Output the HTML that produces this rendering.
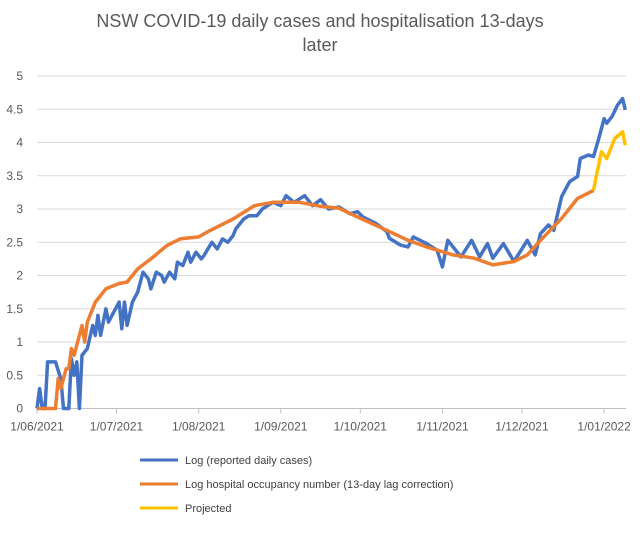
<!DOCTYPE html>
<html><head><meta charset="utf-8"><style>
body{margin:0;background:#fff;width:640px;height:528px;overflow:hidden;font-family:"Liberation Sans",sans-serif}
</style></head><body>
<svg id="chart" width="640" height="528" xmlns="http://www.w3.org/2000/svg">
<text x="320" y="27" text-anchor="middle" font-size="18" fill="#595959">NSW COVID-19 daily cases and hospitalisation 13-days</text>
<text x="320" y="51" text-anchor="middle" font-size="18" fill="#595959">later</text>
<g id="grid"></g>
<g id="series"></g>
<g>
<line x1="140" y1="460" x2="178" y2="460" stroke="#4472c4" stroke-width="3"/>
<text x="185" y="464" font-size="11" fill="#404040">Log (reported daily cases)</text>
<line x1="140" y1="484" x2="178" y2="484" stroke="#ed7d31" stroke-width="3"/>
<text x="185" y="488" font-size="11" fill="#404040">Log hospital occupancy number (13-day lag correction)</text>
<line x1="140" y1="508" x2="178" y2="508" stroke="#ffc000" stroke-width="3"/>
<text x="185" y="512" font-size="11" fill="#404040">Projected</text>
</g>
</svg>
<script>
const yTicks=[0,0.5,1,1.5,2,2.5,3,3.5,4,4.5,5];
const yTickLabels=["0","0.5","1","1.5","2","2.5","3","3.5","4","4.5","5"];
const xTickDays=[0,30,61,92,122,153,183,214];
const xTickLabels=["1/06/2021","1/07/2021","1/08/2021","1/09/2021","1/10/2021","1/11/2021","1/12/2021","1/01/2022"];
const casesDays=[0,1,2,3,4,5,6,7,9,10,12,13,14,15,16,17,19,21,22,23,24,26,27,29,31,32,33,34,36,38,40,42,43,45,47,48,50,52,53,55,57,58,60,62,63,66,68,70,72,74,75,78,80,83,85,87,89,92,94,97,101,104,107,110,114,118,121,123,128,132,133,137,140,142,147,151,153,155,160,164,167,170,172,176,180,185,188,190,193,195,198,201,204,205,208,210,212,214,215,217,219,221,222];
const casesVals=[0,0.3,0,0,0.7,0.7,0.7,0.7,0.45,0,0,0.75,0.5,0.7,0,0.8,0.9,1.25,1.1,1.4,1.1,1.5,1.3,1.45,1.6,1.2,1.6,1.25,1.6,1.75,2.05,1.95,1.8,2.05,2.0,1.9,2.05,1.95,2.2,2.15,2.35,2.2,2.35,2.25,2.3,2.5,2.4,2.55,2.5,2.6,2.7,2.85,2.9,2.9,3.0,3.05,3.1,3.05,3.2,3.1,3.2,3.05,3.14,3.0,3.03,2.93,2.96,2.88,2.78,2.66,2.56,2.46,2.43,2.58,2.48,2.38,2.13,2.53,2.28,2.53,2.28,2.48,2.26,2.48,2.21,2.53,2.31,2.63,2.76,2.68,3.19,3.41,3.49,3.76,3.81,3.79,4.06,4.36,4.29,4.39,4.56,4.66,4.49];
const hospDays=[0,7,8,9,11,12,13,14,17,18,19,22,26,31,34,38,43,49,54,61,65,74,82,89,99,107,114,121,132,140,147,157,165,172,180,185,190,198,204,210];
const hospVals=[0,0,0.45,0.3,0.6,0.6,0.9,0.8,1.25,1.0,1.3,1.6,1.8,1.88,1.9,2.1,2.25,2.45,2.55,2.58,2.67,2.85,3.05,3.1,3.1,3.04,3.01,2.88,2.68,2.53,2.43,2.31,2.26,2.16,2.21,2.31,2.53,2.86,3.16,3.28];
const projDays=[210,211,213,215,218,221,222];
const projVals=[3.28,3.48,3.86,3.76,4.06,4.16,3.96];
const NS="http://www.w3.org/2000/svg";
const x0=37,dayW=2.65,yZero=408.5,yUnit=66.5;
function xs(d){return x0+d*dayW;}
function ys(v){return yZero-v*yUnit;}
const grid=document.getElementById('grid');
yTicks.forEach((t,i)=>{
 const l=document.createElementNS(NS,'line');
 
 
 l.setAttribute('x1',x0);l.setAttribute('x2',626);l.setAttribute('y1',ys(t));l.setAttribute('y2',ys(t));
 l.setAttribute('stroke',i===0?'#bfbfbf':'#d9d9d9');l.setAttribute('stroke-width','1');
 grid.appendChild(l);
 const tx=document.createElementNS(NS,'text');
 
 
 tx.setAttribute('x',23);tx.setAttribute('y',ys(t)+4);tx.setAttribute('text-anchor','end');
 tx.setAttribute('font-size','12');tx.setAttribute('fill','#595959');tx.textContent=yTickLabels[i];
 grid.appendChild(tx);
});
xTickDays.forEach((d,i)=>{
 const tk=document.createElementNS(NS,'line');
 
 
 tk.setAttribute('x1',xs(d));tk.setAttribute('x2',xs(d));tk.setAttribute('y1',yZero);tk.setAttribute('y2',yZero+5);
 tk.setAttribute('stroke','#bfbfbf');
 grid.appendChild(tk);
 const tx=document.createElementNS(NS,'text');
 
 
 tx.setAttribute('x',xs(d));tx.setAttribute('y',yZero+22);tx.setAttribute('text-anchor','middle');
 tx.setAttribute('font-size','12');tx.setAttribute('fill','#595959');tx.textContent=xTickLabels[i];
 grid.appendChild(tx);
});
const series=document.getElementById('series');
function line(days,vals,color,name){
 const p=document.createElementNS(NS,'polyline');
 
 
 p.setAttribute('points',days.map((d,i)=>xs(d).toFixed(1)+','+ys(vals[i]).toFixed(1)).join(' '));
 p.setAttribute('fill','none');p.setAttribute('stroke',color);p.setAttribute('stroke-width','3.5');
 p.setAttribute('stroke-linejoin','round');
 series.appendChild(p);
}
line(casesDays,casesVals,'#4472c4','cases-line');
line(hospDays,hospVals,'#ed7d31','hospital-line');
line(projDays,projVals,'#ffc000','projected-line');
</script>
</body></html>
